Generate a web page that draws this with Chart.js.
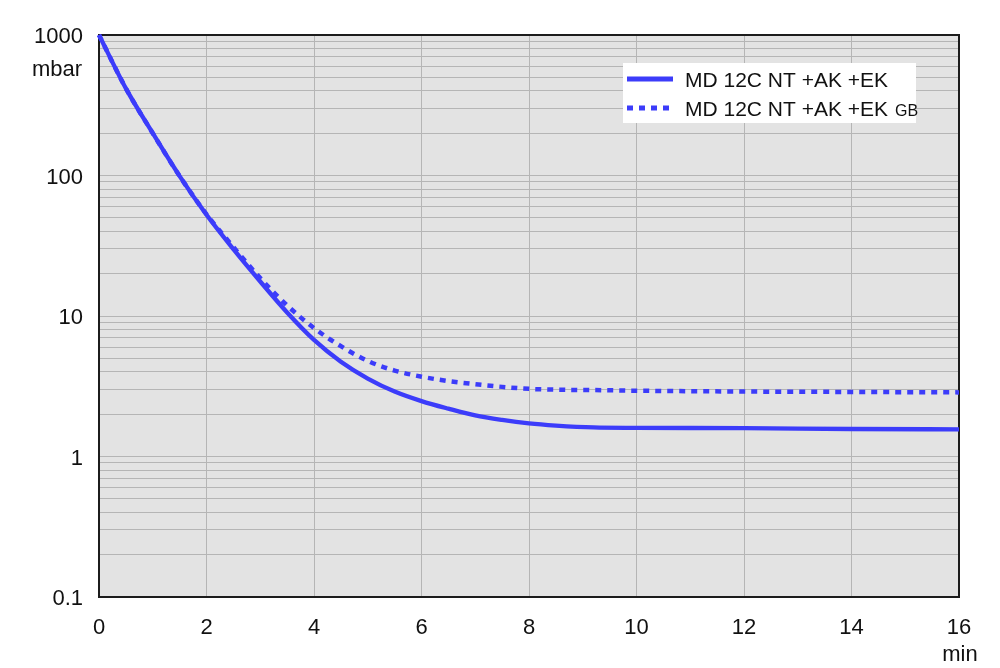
<!DOCTYPE html>
<html>
<head>
<meta charset="utf-8">
<script src="https://cdn.jsdelivr.net/npm/chart.js@4"></script>
<style>
  body{margin:0;background:#fff;}
  #box{width:1000px;height:668px;position:relative;}
</style>
</head>
<body>
<div id="box"><canvas id="pumpChart"></canvas></div>
<script>
// pump-down curves, time in min, pressure in mbar
const timeMin      = [0, 0.5, 1, 1.5, 2, 2.5, 3, 3.5, 4, 4.5, 5, 5.5, 6, 6.5, 7, 7.5, 8, 8.5, 9.2, 10, 12, 14, 16];
const pressureEK   = [1000, 417, 200, 99, 52.5, 29.9, 17.6, 10.6, 6.76, 4.73, 3.59, 2.9, 2.48, 2.19, 1.96, 1.82, 1.72, 1.66, 1.61, 1.6, 1.59, 1.57, 1.56];
const pressureEKGB = [1000, 417, 200, 99, 53, 31, 18.6, 11.9, 8.2, 6.1, 4.79, 4.09, 3.7, 3.44, 3.27, 3.13, 3.03, 2.99, 2.97, 2.94, 2.9, 2.88, 2.86];

const seriesLabels = ["MD 12C NT +AK +EK", "MD 12C NT +AK +EK"];
const seriesSuffix = ["", "GB"];

const xTicks  = [0, 2, 4, 6, 8, 10, 12, 14, 16];
const yGrid   = [0.1, 0.2, 0.3, 0.4, 0.5, 0.6, 0.7, 0.8, 0.9,
                 1, 2, 3, 4, 5, 6, 7, 8, 9,
                 10, 20, 30, 40, 50, 60, 70, 80, 90,
                 100, 200, 300, 400, 500, 600, 700, 800, 900, 1000];
const yLabels = [0.1, 1, 10, 100, 1000];
const yUnit = "mbar";
const xUnit = "min";

const FONT = "'Liberation Sans', Arial, sans-serif";
const BLUE = "rgb(60,60,250)";

const frame = {
  id: "frame",
  beforeDraw(c){
    const a = c.chartArea, ctx = c.ctx;
    ctx.save();
    ctx.fillStyle = "#e3e3e3";
    ctx.fillRect(a.left, a.top, a.width, a.height);
    ctx.restore();
  },
  beforeDatasetsDraw(c){
    const a = c.chartArea, ctx = c.ctx;
    ctx.save();
    ctx.strokeStyle = "#1c1c1c";
    ctx.lineWidth = 2;
    ctx.strokeRect(a.left, a.top, a.width, a.height);
    ctx.restore();
  },
  afterDraw(c){
    const a = c.chartArea, ctx = c.ctx;
    const xs = c.scales.x, ys = c.scales.y;
    ctx.save();
    ctx.fillStyle = "#111";
    ctx.font = "22px " + FONT;
    ctx.textBaseline = "middle";
    ctx.textAlign = "right";
    ctx.fillText(yUnit, a.left - 17, ys.getPixelForValue(1000) + 35);
    ctx.textAlign = "center";
    ctx.fillText(xUnit, xs.getPixelForValue(16) + 1, a.bottom + 58);

    // legend
    const x0 = a.right - 336, y0 = a.top + 28;
    ctx.fillStyle = "#fff";
    ctx.fillRect(x0, y0, 293, 60);
    c.data.datasets.forEach((ds, i) => {
      const yc = y0 + 16 + i * 29;
      ctx.strokeStyle = ds.borderColor;
      ctx.lineWidth = 5;
      ctx.setLineDash(ds.borderDash || []);
      ctx.beginPath();
      ctx.moveTo(x0 + 4, yc);
      ctx.lineTo(x0 + 50, yc);
      ctx.stroke();
      ctx.setLineDash([]);
      ctx.fillStyle = "#111";
      ctx.textAlign = "left";
      ctx.textBaseline = "alphabetic";
      ctx.font = "21px " + FONT;
      ctx.fillText(seriesLabels[i], x0 + 62, yc + 8);
      if(seriesSuffix[i]){
        const w = ctx.measureText(seriesLabels[i]).width;
        ctx.font = "16px " + FONT;
        ctx.fillText(seriesSuffix[i], x0 + 62 + w + 7, yc + 8);
      }
    });
    ctx.restore();
  }
};

new Chart(document.getElementById("pumpChart"), {
  type: "line",
  data: {
    datasets: [
      {
        label: seriesLabels[0],
        data: timeMin.map((t, i) => ({x: t, y: pressureEK[i]})),
        borderColor: BLUE,
        borderWidth: 4.3,
        pointRadius: 0,
        cubicInterpolationMode: "monotone",
        clip: false
      },
      {
        label: seriesLabels[1] + " " + seriesSuffix[1],
        data: timeMin.map((t, i) => ({x: t, y: pressureEKGB[i]})),
        borderColor: BLUE,
        borderWidth: 4.5,
        borderDash: [6, 6],
        borderCapStyle: "butt",
        pointRadius: 0,
        cubicInterpolationMode: "monotone",
        clip: false
      }
    ]
  },
  options: {
    responsive: true,
    maintainAspectRatio: false,
    animation: false,
    layout: {padding: {top: 35, right: 41, left: 0, bottom: 0}},
    plugins: {legend: {display: false}, tooltip: {enabled: false}},
    scales: {
      x: {
        type: "linear",
        min: 0, max: 16,
        afterBuildTicks: s => { s.ticks = xTicks.map(v => ({value: v})); },
        afterFit: s => { s.height = 71; },
        grid: {color: "#b5b5b5", lineWidth: 1, drawTicks: false},
        border: {display: false},
        ticks: {
          autoSkip: false, maxRotation: 0, padding: 18,
          color: "#111", font: {family: FONT, size: 22},
          callback: v => String(v)
        }
      },
      y: {
        type: "logarithmic",
        min: 0.1, max: 1000,
        afterBuildTicks: s => { s.ticks = yGrid.map(v => ({value: v})); },
        afterFit: s => { s.width = 99; },
        grid: {color: "#b5b5b5", lineWidth: 1, drawTicks: false},
        border: {display: false},
        ticks: {
          autoSkip: false, padding: 16, labelOffset: 2,
          color: "#111", font: {family: FONT, size: 22},
          callback: v => yLabels.includes(v) ? String(v) : ""
        }
      }
    }
  },
  plugins: [frame]
});
</script>
</body>
</html>
